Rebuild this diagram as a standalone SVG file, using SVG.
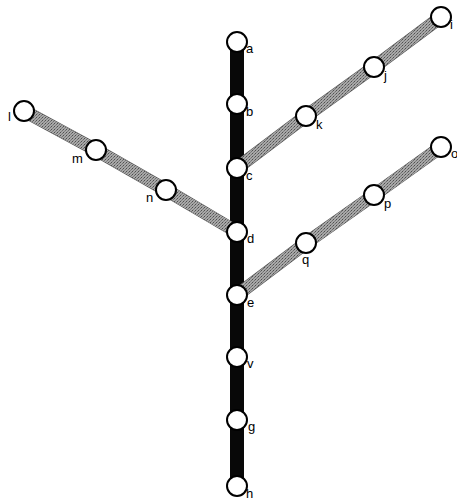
<svg xmlns="http://www.w3.org/2000/svg" width="457" height="502" viewBox="0 0 457 502">
<defs>
<pattern id="stip" width="3" height="3" patternUnits="userSpaceOnUse">
<rect width="3" height="3" fill="#a8a8a8"/>
<rect width="1" height="1" fill="#505050"/>
<rect x="2" y="1" width="1" height="1" fill="#707070"/>
<rect x="1" y="2" width="1" height="1" fill="#808080"/>
</pattern>
</defs>
<style>
.trunk{stroke:#080808;stroke-width:14;fill:none}
.branch{stroke:url(#stip);stroke-width:12;fill:none}
.edge{stroke:#555;stroke-width:13;fill:none}
.node circle{fill:#fff;stroke:#000;stroke-width:2}
.node text{font-family:"Liberation Sans",Arial,sans-serif;font-size:13px;fill:#000}
</style>
<rect width="457" height="502" fill="#fff"/>
<g id="connectors">
<line class="trunk" x1="237" y1="42" x2="237" y2="486"/>
<polyline class="edge" points="237,168 306,116 374,67 441,17"/>
<polyline class="branch" points="237,168 306,116 374,67 441,17"/>
<polyline class="edge" points="237,295 306,243 374,195 441,147"/>
<polyline class="branch" points="237,295 306,243 374,195 441,147"/>
<polyline class="edge" points="24,111 96,150 166,190 237,232"/>
<polyline class="branch" points="24,111 96,150 166,190 237,232"/>
</g>
<g id="node-a" class="node"><circle cx="237" cy="42" r="10"/><text x="246" y="53">a</text></g>
<g id="node-b" class="node"><circle cx="237" cy="104" r="10"/><text x="246" y="116">b</text></g>
<g id="node-c" class="node"><circle cx="237" cy="168" r="10"/><text x="246" y="180">c</text></g>
<g id="node-d" class="node"><circle cx="237" cy="232" r="10"/><text x="247" y="243">d</text></g>
<g id="node-e" class="node"><circle cx="237" cy="295" r="10"/><text x="247" y="307">e</text></g>
<g id="node-f" class="node"><circle cx="237" cy="357" r="10"/><text x="247" y="368">v</text></g>
<g id="node-g" class="node"><circle cx="237" cy="420" r="10"/><text x="248" y="431">g</text></g>
<g id="node-h" class="node"><circle cx="237" cy="486" r="10"/><text x="246" y="498">h</text></g>
<g id="node-i" class="node"><circle cx="441" cy="17" r="10"/><text x="450" y="29">i</text></g>
<g id="node-j" class="node"><circle cx="374" cy="67" r="10"/><text x="384" y="80">j</text></g>
<g id="node-k" class="node"><circle cx="306" cy="116" r="10"/><text x="316" y="129">k</text></g>
<g id="node-l" class="node"><circle cx="24" cy="111" r="10"/><text x="8" y="121">l</text></g>
<g id="node-m" class="node"><circle cx="96" cy="150" r="10"/><text x="72" y="163">m</text></g>
<g id="node-n" class="node"><circle cx="166" cy="190" r="10"/><text x="146" y="202">n</text></g>
<g id="node-o" class="node"><circle cx="441" cy="147" r="10"/><text x="451" y="158">o</text></g>
<g id="node-p" class="node"><circle cx="374" cy="195" r="10"/><text x="384" y="208">p</text></g>
<g id="node-q" class="node"><circle cx="306" cy="243" r="10"/><text x="302" y="264">q</text></g>
</svg>
